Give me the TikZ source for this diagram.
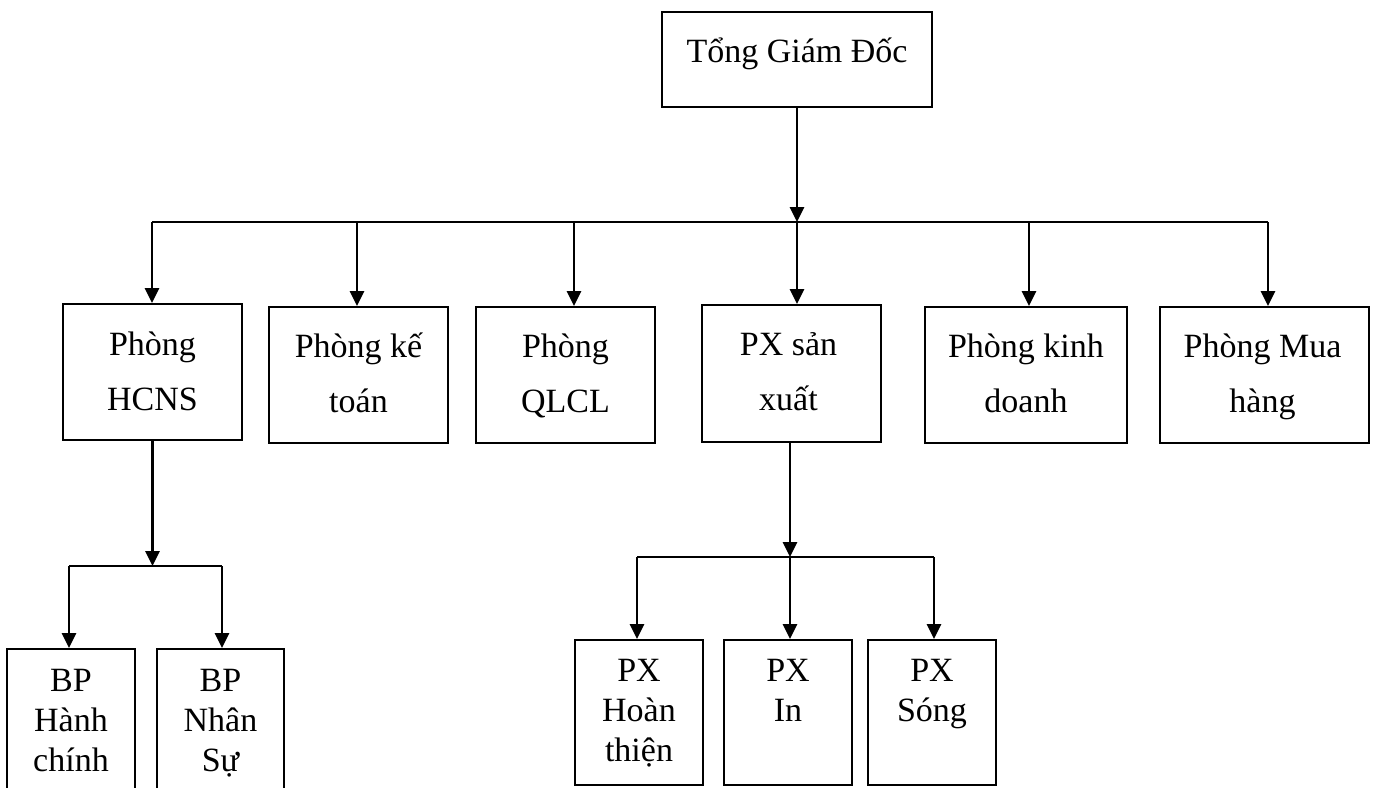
\documentclass[tikz,border=0pt]{standalone}
\usepackage{fontspec}
\setmainfont{Liberation Serif}
\usetikzlibrary{arrows.meta,calc}
\begin{document}
\begin{tikzpicture}[x=1pt,y=-1pt,
  box/.style={draw, line width=1.9pt, inner sep=0pt},
  arr/.style={line width=2.8pt, -{Triangle[length=15pt,width=14pt]}},
  busline/.style={line width=2.2pt},
  lblone/.style={anchor=base, inner sep=0pt, font=\fontsize{34}{40}\selectfont},
  lbltwo/.style={anchor=base, inner sep=0pt, font=\fontsize{34}{55}\selectfont},
  lblthree/.style={anchor=base, inner sep=0pt, font=\fontsize{34}{40}\selectfont}]
\clip (0,0) rectangle (1373,787);
\fill[white] (0,0) rectangle (1373,787);

% boxes
\node[box, minimum width=270pt, minimum height=95pt] (tgd) at (797,59.5) {};
\node[box, minimum width=179pt, minimum height=136pt] (hcns) at (152.5,372) {};
\node[box, minimum width=179pt, minimum height=136pt] (ketoan) at (358.5,375) {};
\node[box, minimum width=179pt, minimum height=136pt] (qlcl) at (565.5,375) {};
\node[box, minimum width=179pt, minimum height=137pt] (pxsx) at (791.5,373.5) {};
\node[box, minimum width=202pt, minimum height=136pt] (kd) at (1026,375) {};
\node[box, minimum width=209pt, minimum height=136pt] (mh) at (1264.5,375) {};
\node[box, minimum width=128pt, minimum height=151pt] (bphc) at (71,724.5) {};
\node[box, minimum width=127pt, minimum height=151pt] (bpns) at (220.5,724.5) {};
\node[box, minimum width=128pt, minimum height=145pt] (pxht) at (639,712.5) {};
\node[box, minimum width=128pt, minimum height=145pt] (pxin) at (788,712.5) {};
\node[box, minimum width=128pt, minimum height=145pt] (pxsong) at (932,712.5) {};

% labels
\node[lblone] (ttgd) at ($(tgd.north)+(0,51)$) {Tổng Giám Đốc};
\node[lbltwo] (thcns) at ($(hcns.north)+(0,52)$) {\begin{tabular}[t]{@{}c@{}}Phòng\\HCNS\end{tabular}};
\node[lbltwo] (tketoan) at ($(ketoan.north)+(0,51)$) {\begin{tabular}[t]{@{}c@{}}Phòng kế\\toán\end{tabular}};
\node[lbltwo] (tqlcl) at ($(qlcl.north)+(0,51)$) {\begin{tabular}[t]{@{}c@{}}Phòng\\QLCL\end{tabular}};
\node[lbltwo] (tpxsx) at ($(pxsx.north)+(-3,51)$) {\begin{tabular}[t]{@{}c@{}}PX sản\\xuất\end{tabular}};
\node[lbltwo] (tkd) at ($(kd.north)+(0,51)$) {\begin{tabular}[t]{@{}c@{}}Phòng kinh\\doanh\end{tabular}};
\node[lbltwo] (tmh) at ($(mh.north)+(-2,51)$) {\begin{tabular}[t]{@{}c@{}}Phòng Mua\\hàng\end{tabular}};
\node[lblthree] (tbphc) at ($(bphc.north)+(0,43)$) {\begin{tabular}[t]{@{}c@{}}BP\\Hành\\chính\end{tabular}};
\node[lblthree] (tbpns) at ($(bpns.north)+(0,43)$) {\begin{tabular}[t]{@{}c@{}}BP\\Nhân\\Sự\end{tabular}};
\node[lblthree] (tpxht) at ($(pxht.north)+(0,42)$) {\begin{tabular}[t]{@{}c@{}}PX\\Hoàn\\thiện\end{tabular}};
\node[lblthree] (tpxin) at ($(pxin.north)+(0,42)$) {\begin{tabular}[t]{@{}c@{}}PX\\In\end{tabular}};
\node[lblthree] (tpxsong) at ($(pxsong.north)+(0,42)$) {\begin{tabular}[t]{@{}c@{}}PX\\Sóng\end{tabular}};

% bus coordinates
\coordinate (busA) at (0,222);
\coordinate (busAL) at (152,222);
\coordinate (busAR) at (1268,222);
\coordinate (busB) at (0,566);
\coordinate (busBL) at (69,566);
\coordinate (busBR) at (222,566);
\coordinate (busC) at (0,557);
\coordinate (busCL) at (637,557);
\coordinate (busCR) at (934,557);

% level 1 -> level 2
\draw[arr] (tgd.south) -- (tgd.south |- busA);
\draw[busline] (busAL) -- (busAR);
\draw[arr] ([xshift=-0.5pt]hcns.north |- busA) -- ([xshift=-0.5pt]hcns.north);
\draw[arr] ([xshift=-1.5pt]ketoan.north |- busA) -- ([xshift=-1.5pt]ketoan.north);
\draw[arr] ([xshift=8.5pt]qlcl.north |- busA) -- ([xshift=8.5pt]qlcl.north);
\draw[arr] ([xshift=5.5pt]pxsx.north |- busA) -- ([xshift=5.5pt]pxsx.north);
\draw[arr] ([xshift=3pt]kd.north |- busA) -- ([xshift=3pt]kd.north);
\draw[arr] ([xshift=3.5pt]mh.north |- busA) -- ([xshift=3.5pt]mh.north);

% HCNS -> BP
\draw[arr] (hcns.south) -- (hcns.south |- busB);
\draw[busline] (busBL) -- (busBR);
\draw[arr] ([xshift=-2pt]bphc.north |- busB) -- ([xshift=-2pt]bphc.north);
\draw[arr] ([xshift=1.5pt]bpns.north |- busB) -- ([xshift=1.5pt]bpns.north);

% PX san xuat -> PX
\draw[arr] ([xshift=-1.5pt]pxsx.south) -- ([xshift=-1.5pt]pxsx.south |- busC);
\draw[busline] (busCL) -- (busCR);
\draw[arr] ([xshift=-2pt]pxht.north |- busC) -- ([xshift=-2pt]pxht.north);
\draw[arr] ([xshift=2pt]pxin.north |- busC) -- ([xshift=2pt]pxin.north);
\draw[arr] ([xshift=2pt]pxsong.north |- busC) -- ([xshift=2pt]pxsong.north);
\end{tikzpicture}
\end{document}
